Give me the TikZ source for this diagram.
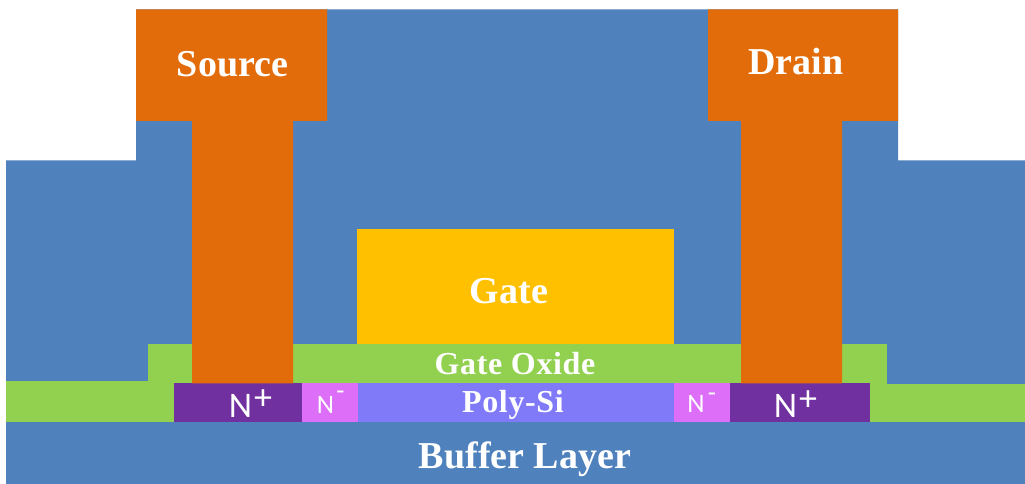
\documentclass[tikz,border=0pt]{standalone}
\usepackage{fontspec}
\setmainfont{Liberation Serif}
\newfontfamily\nfont{Carlito}
\definecolor{oxblue}{HTML}{4F81BD}
\definecolor{metal}{HTML}{E36C0A}
\definecolor{oxgreen}{HTML}{92D050}
\definecolor{gatey}{HTML}{FFC000}
\definecolor{nplus}{HTML}{7030A0}
\definecolor{nminus}{HTML}{DC6EF8}
\definecolor{poly}{HTML}{8079F8}
\tikzset{
  lbl/.style 2 args={text=white,font=\bfseries\fontsize{#1}{#1}\selectfont\addfontfeatures{LetterSpace=#2},inner sep=0pt,anchor=base},
  nlbl/.style={text=white,font=\nfont\fontsize{#1}{#1}\selectfont,inner sep=0pt,anchor=base}
}
\begin{document}
\begin{tikzpicture}[x=0.75pt,y=-0.75pt]
\useasboundingbox (0,0) rectangle (1025,484);
\fill[white] (0,0) rectangle (1025,484);
% passivation body
\fill[oxblue] (6,484) -- (6,160.5) -- (136,160.5) -- (136,9.5) -- (898,9.5) -- (898,160.5) -- (1025,160.5) -- (1025,484) -- cycle;
% green layers
\fill[oxgreen] (147.5,344) rectangle (887,384.5);
\fill[oxgreen] (6,381) rectangle (174,422.5);
\fill[oxgreen] (870,384.5) rectangle (1025,422.5);
% buffer
\fill[oxblue] (6,422.5) rectangle (1025,484);
% active layer
\fill[nplus] (174,383.5) rectangle (301.5,422.5);
\fill[nminus] (301.5,383.5) rectangle (357.5,422.5);
\fill[poly] (357.5,383.5) rectangle (674,422.5);
\fill[nminus] (674,383.5) rectangle (730,422.5);
\fill[nplus] (730,383.5) rectangle (870,422.5);
% gate
\fill[gatey] (357,229) rectangle (674,344);
% electrodes
\fill[metal] (136,9.5) -- (327,9.5) -- (327,121) -- (293,121) -- (293,383.5) -- (192,383.5) -- (192,121) -- (136,121) -- cycle;
\fill[metal] (708,9.5) -- (898,9.5) -- (898,121) -- (842,121) -- (842,383.5) -- (741,383.5) -- (741,121) -- (708,121) -- cycle;
% labels
\node[lbl={28.5}{0}] (source) at (232.5,76.5) {Source};
\node[lbl={28.5}{0}] (drain) at (796,74.5) {Drain};
\node[lbl={28.5}{0}] (gate) at (509,304) {Gate};
\node[lbl={24}{2}] (oxide) at (515,374.5) {Gate Oxide};
\node[lbl={24}{2}] (polysi) at (513,412.5) {Poly-Si};
\node[lbl={28.5}{0}] (buffer) at (525,468.5) {Buffer Layer};
\node[nlbl=27] (np1) at (240.5,418) {N};
\node[nlbl=27] (np1s) at (263,410) {+};
\node[nlbl=27] (np2) at (785.5,418) {N};
\node[nlbl=27] (np2s) at (808,411) {+};
\node[nlbl=20] (nm1) at (325.5,413.5) {N};
\node[nlbl=20] (nm1s) at (340.5,400) {-};
\node[nlbl=20] (nm2) at (696,413) {N};
\node[nlbl=20] (nm2s) at (712,402) {-};
\end{tikzpicture}
\end{document}
